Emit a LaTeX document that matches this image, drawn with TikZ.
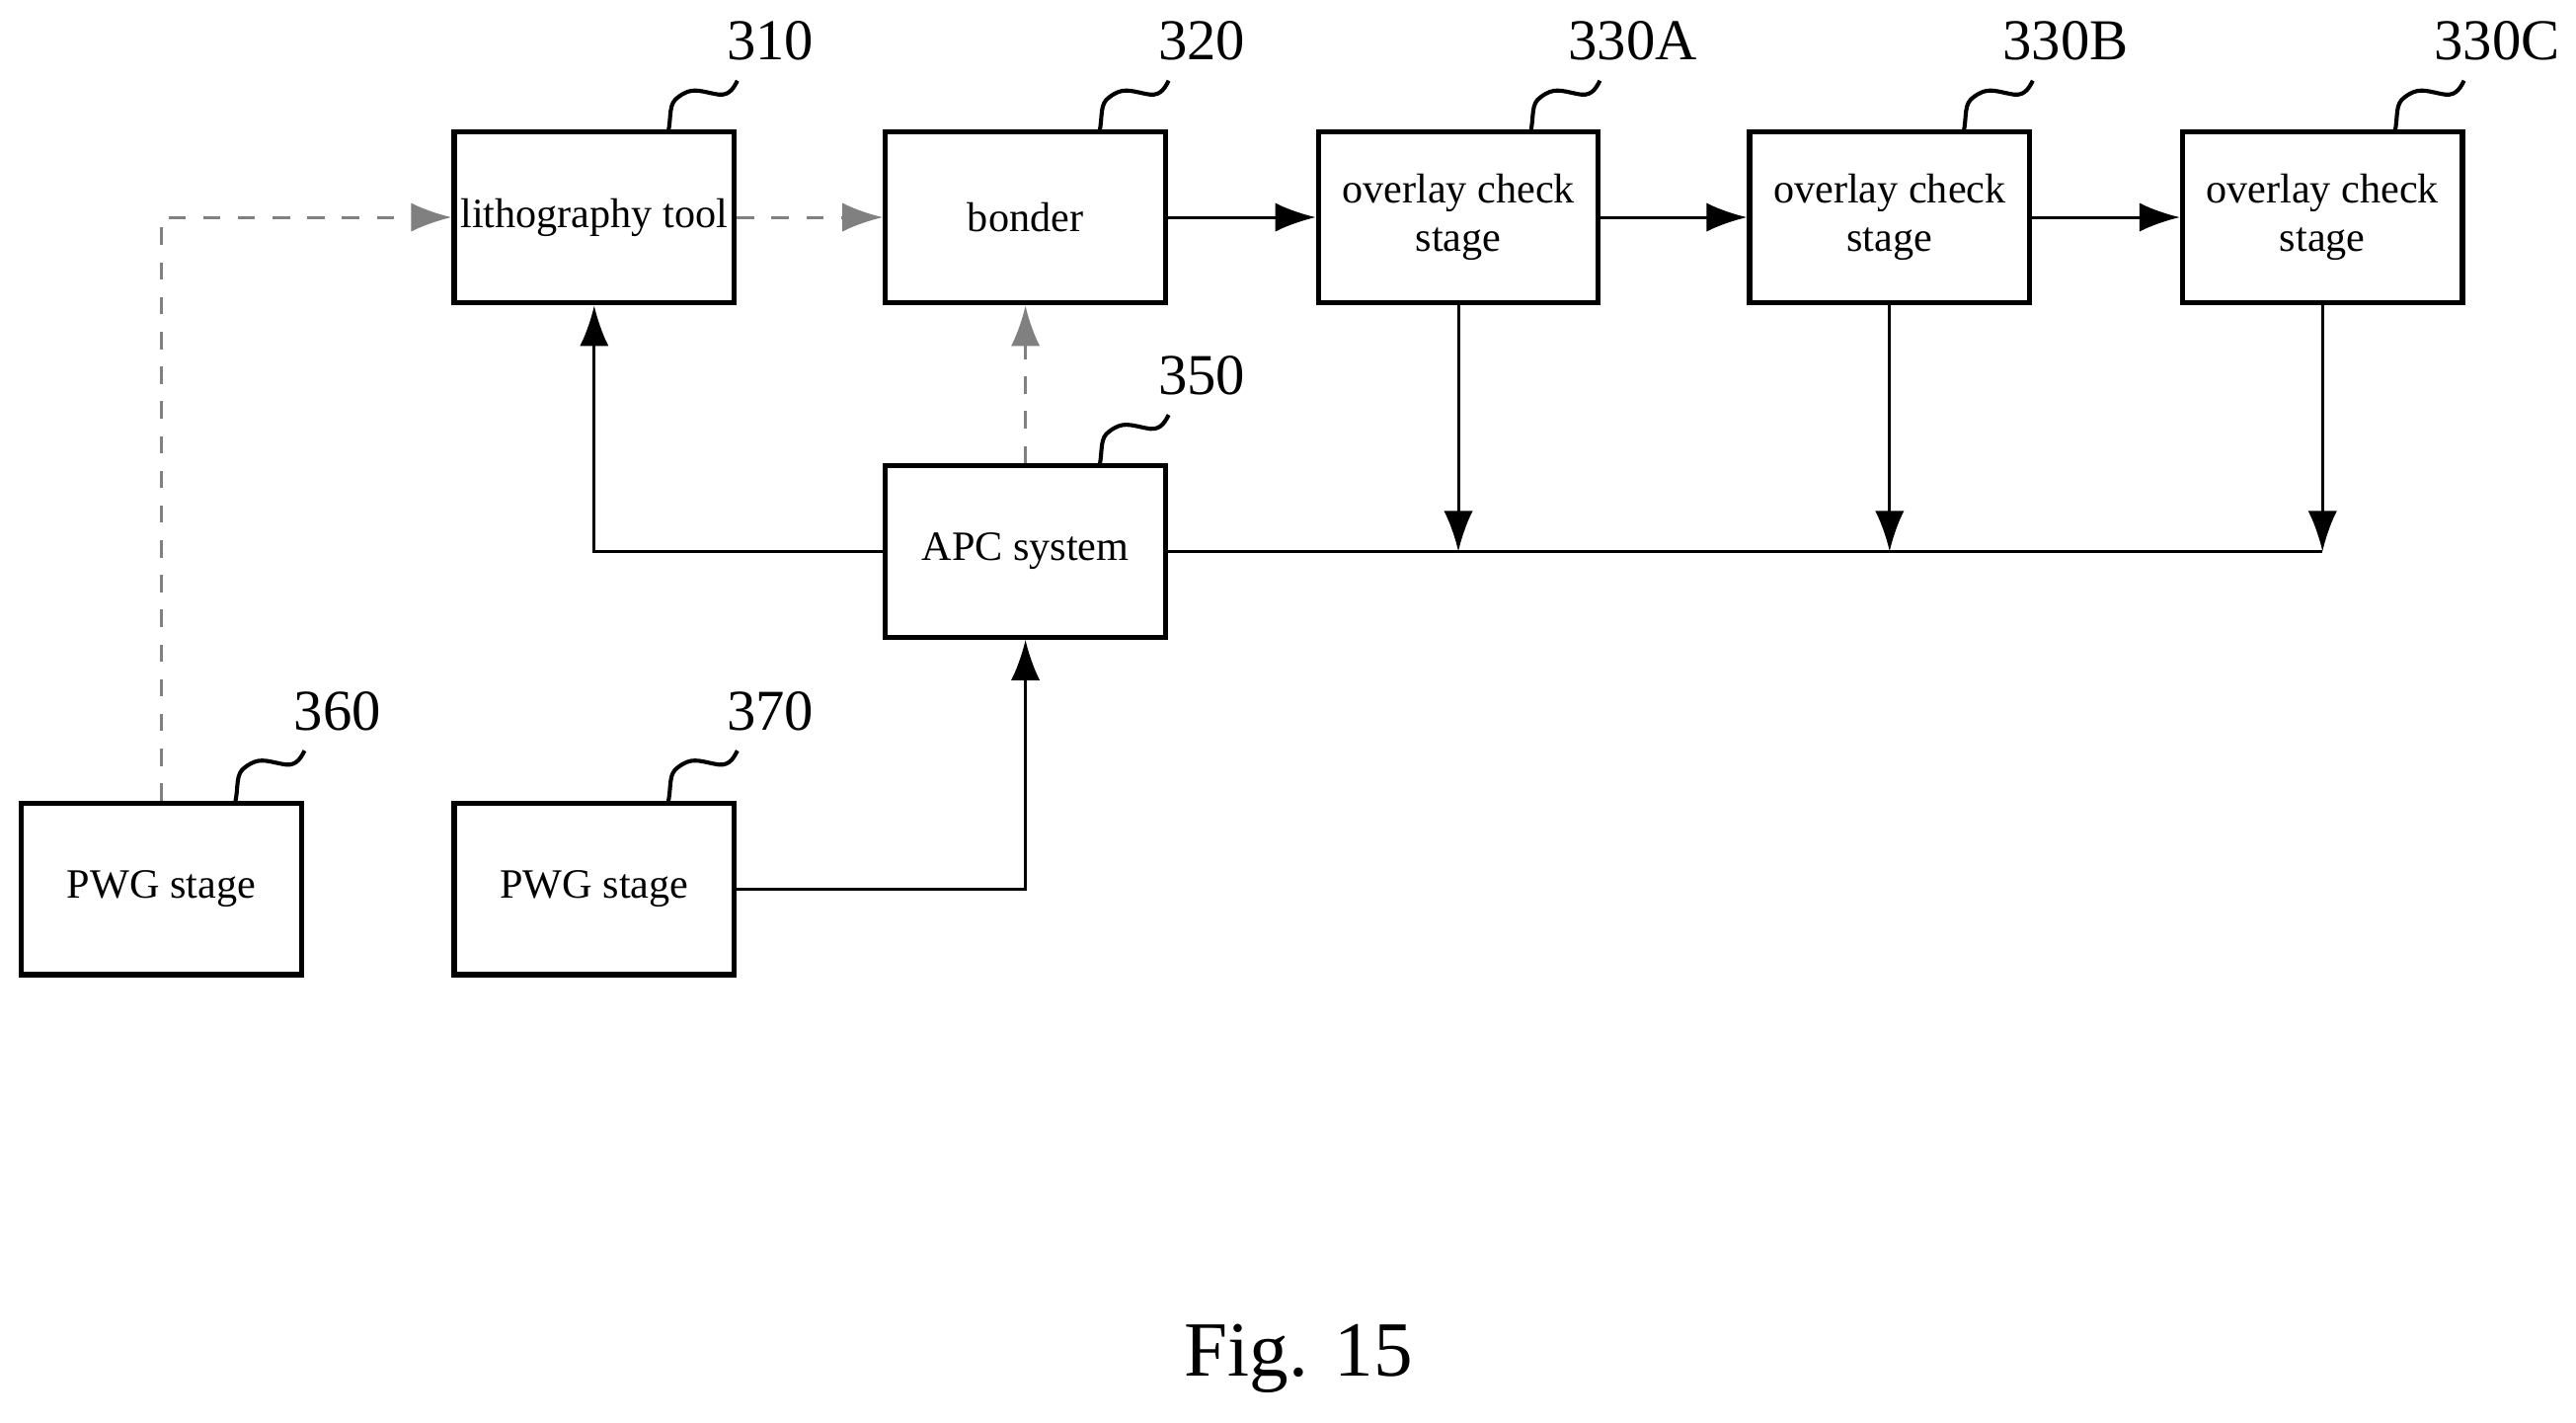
\documentclass[tikz,border=0pt]{standalone}
\usepackage{fontspec}
\setmainfont{Liberation Serif}
\usetikzlibrary{arrows.meta}

% reference numeral with a wavy leader
\newcommand{\callout}[3]{%
  \draw[line width=0.7pt] (#1,#2) .. controls +(2,-10) and +(-6,4) .. ++(6,-21)
    .. controls +(8,-6) and +(-10,-2) .. ++(22,-2) .. controls +(8,2) and +(-3,6) .. ++(14,-8);
  \node[num] at ([shift={(62,-55)}]#1,#2) {#3};}

\begin{document}
\begin{tikzpicture}[
  x=0.01cm, y=-0.01cm,
  >={Latex[length=7pt,width=5pt]},
  blk/.style={draw, line width=0.9pt, minimum width=1.7cm, minimum height=1.04cm, align=center, font=\fontsize{7.2}{8.4}\selectfont, inner sep=1pt},
  flow/.style={->, line width=0.5pt},
  ctl/.style={->, line width=0.5pt, dashed, gray},
  num/.style={font=\fontsize{10}{11}\selectfont},
]
\useasboundingbox (0,0) rectangle (1565,864);

% Blocks
\node[blk] (litho) at (361,132) {lithography tool};
\node[blk] (bond)  at (623,132) {bonder};
\node[blk] (ova)   at (886,132) {overlay check\\stage};
\node[blk] (ovb)   at (1148,132) {overlay check\\stage};
\node[blk] (ovc)   at (1411,132) {overlay check\\stage};
\node[blk] (apc)   at (623,335) {APC system};
\node[blk] (pwga)  at (98,540) {PWG stage};
\node[blk] (pwgb)  at (361,540) {PWG stage};

% Reference numerals
\callout{406}{80}{310}
\callout{668}{80}{320}
\callout{930}{80}{330A}
\callout{1193}{80}{330B}
\callout{1455}{80}{330C}
\callout{668}{283}{350}
\callout{143}{487}{360}
\callout{406}{487}{370}

% Process flow
\draw[ctl] (pwga.north) |- (litho.west);
\draw[ctl] (litho) -- (bond);
\draw[flow] (bond) -- (ova);
\draw[flow] (ova) -- (ovb);
\draw[flow] (ovb) -- (ovc);

% Feedback / feed-forward
\draw[ctl] (apc) -- (bond);
\draw[flow] (apc.west) -| (litho.south);
\coordinate (busend) at (ovc |- apc);
\draw[line width=0.5pt] (apc.east) -- (busend);
\draw[flow] (ova.south) -- (ova |- apc);
\draw[flow] (ovb.south) -- (ovb |- apc);
\draw[flow] (ovc.south) -- (busend);
\draw[flow] (pwgb.east) -| (apc.south);

% Caption
\node[font=\fontsize{13.5}{15}\selectfont] (cap) at (789,825) {Fig. 15};
\end{tikzpicture}
\end{document}
